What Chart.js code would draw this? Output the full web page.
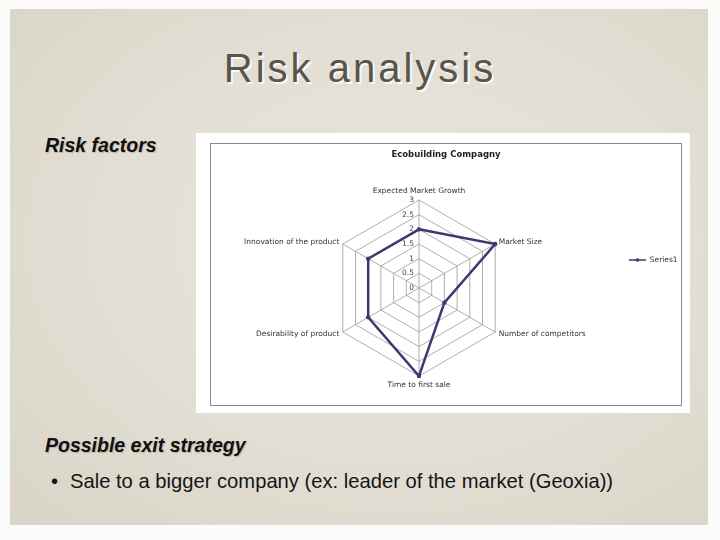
<!DOCTYPE html>
<html>
<head>
<meta charset="utf-8">
<script src="https://cdn.jsdelivr.net/npm/chart.js@4/dist/chart.umd.min.js"></script>
<style>
  html, body { margin: 0; padding: 0; }
  body { width: 720px; height: 540px; position: relative; overflow: hidden; background: #fbfbfa; font-family: "Liberation Sans", Arial, sans-serif; }
  .paper {
    position: absolute; left: 10px; top: 9px; width: 698px; height: 516px;
    background: radial-gradient(ellipse at 55% 45%, #e9e6dd 0%, #e2ded3 55%, #d9d4c7 100%);
  }
  .title {
    position: absolute; left: 0; top: 48px; width: 720px; text-align: center;
    font-size: 40px; line-height: 1; letter-spacing: 3px; color: #59554a;
    text-shadow: 2px 2px 1px rgba(255,255,255,0.85);
  }
  .sub {
    position: absolute; left: 45px; font-size: 19.5px; line-height: 1;
    font-weight: bold; font-style: italic; color: #111;
    text-shadow: 1px 1px 1px rgba(0,0,0,0.18);
  }
  .bullet { position: absolute; font-size: 20.2px; line-height: 1; color: #151515; top: 470.9px; }
  .whitebox { position: absolute; left: 196px; top: 133px; width: 494px; height: 280px; background: #fff; }
  .frame { position: absolute; left: 210px; top: 143px; width: 470px; height: 261px; border: 1.5px solid #8a8a8a; }
  .chartbox { position: absolute; left: 211px; top: 144px; width: 470px; height: 261px; }
</style>
</head>
<body>
<div class="paper"></div>
<div class="title">Risk analysis</div>
<div class="sub" style="top:135.5px">Risk factors</div>
<div class="whitebox"></div>
<div class="frame"></div>
<div class="chartbox"><canvas id="radar" width="470" height="261"></canvas></div>
<div class="sub" style="top:435.5px">Possible exit strategy</div>
<div class="bullet" style="left:51px">•</div>
<div class="bullet" style="left:70px">Sale to a bigger company (ex: leader of the market (Geoxia))</div>

<script>
const categories = ['Expected Market Growth', 'Market Size', 'Number of competitors',
  'Time to first sale', 'Desirability of product', 'Innovation of the product'];
const series1 = [2, 3, 1, 3, 2, 2];
const rTicks = [0, 0.5, 1, 1.5, 2, 2.5, 3];

const lineColor = '#3b3a72';
const smallFont = '7.5px "DejaVu Sans"';

// tick labels and category labels drawn next to the axis, like the Excel original
const radarText = {
  id: 'radarText',
  beforeDatasetsDraw(chart) {
    const s = chart.scales.r;
    const ctx = chart.ctx;
    ctx.save();
    ctx.font = smallFont;
    ctx.fillStyle = '#444';
    ctx.textAlign = 'right';
    ctx.textBaseline = 'middle';
    s.ticks.forEach(t => {
      const d = s.getDistanceFromCenterForValue(t.value);
      ctx.fillText(t.label, s.xCenter - 5, s.yCenter - d);
    });
    ctx.restore();
  },
  afterDraw(chart) {
    const s = chart.scales.r;
    const ctx = chart.ctx;
    ctx.save();
    ctx.font = smallFont;
    ctx.fillStyle = '#333';
    ctx.textBaseline = 'middle';
    chart.data.labels.forEach((txt, i) => {
      const sin = Math.sin(s.getIndexAngle(i));
      let p;
      if (Math.abs(sin) < 0.01) {
        p = s.getPointPosition(i, s.drawingArea + 9);
        ctx.textAlign = 'center';
      } else {
        p = s.getPointPosition(i, s.drawingArea + 4);
        ctx.textAlign = sin > 0 ? 'left' : 'right';
      }
      ctx.fillText(txt, p.x, p.y);
    });
    // dot on the legend line
    const hb = chart.legend.legendHitBoxes[0];
    if (hb) {
      ctx.fillStyle = lineColor;
      ctx.beginPath();
      ctx.arc(hb.left + 8.5, hb.top + hb.height / 2, 1.8, 0, Math.PI * 2);
      ctx.fill();
    }
    ctx.restore();
  }
};

new Chart(document.getElementById('radar').getContext('2d'), {
  type: 'radar',
  data: {
    labels: categories,
    datasets: [{
      label: 'Series1',
      data: series1,
      borderColor: lineColor,
      backgroundColor: lineColor,
      borderWidth: 2.5,
      fill: false,
      pointRadius: 2.2,
      pointBackgroundColor: lineColor,
      pointBorderWidth: 0,
    }],
  },
  options: {
    responsive: false,
    animation: false,
    layout: { padding: { top: 0, bottom: 29, left: 0, right: 0 } },
    plugins: {
      title: {
        display: true,
        text: 'Ecobuilding Compagny',
        color: '#222',
        font: { family: 'DejaVu Sans', size: 8.5, weight: 'bold' },
        padding: { top: 6, bottom: 39.8 },
      },
      legend: {
        position: 'right',
        maxWidth: 54,
        labels: {
          usePointStyle: true,
          pointStyle: 'line',
          pointStyleWidth: 17,
          padding: 2,
          color: '#333',
          font: { family: 'DejaVu Sans', size: 7.5 },
          generateLabels(chart) {
            const items = Chart.defaults.plugins.legend.labels.generateLabels(chart);
            items.forEach(it => { it.lineWidth = 1.5; });
            return items;
          },
        },
      },
      tooltip: { enabled: false },
    },
    scales: {
      r: {
        min: 0,
        max: 3,
        afterBuildTicks(scale) { scale.ticks = rTicks.map(v => ({ value: v })); },
        ticks: { display: false, callback: v => String(v) },
        pointLabels: { display: false },
        grid: { color: '#9a9a9a', lineWidth: 0.8 },
        angleLines: { color: '#9a9a9a', lineWidth: 0.8 },
      },
    },
  },
  plugins: [radarText],
});
</script>
</body>
</html>
